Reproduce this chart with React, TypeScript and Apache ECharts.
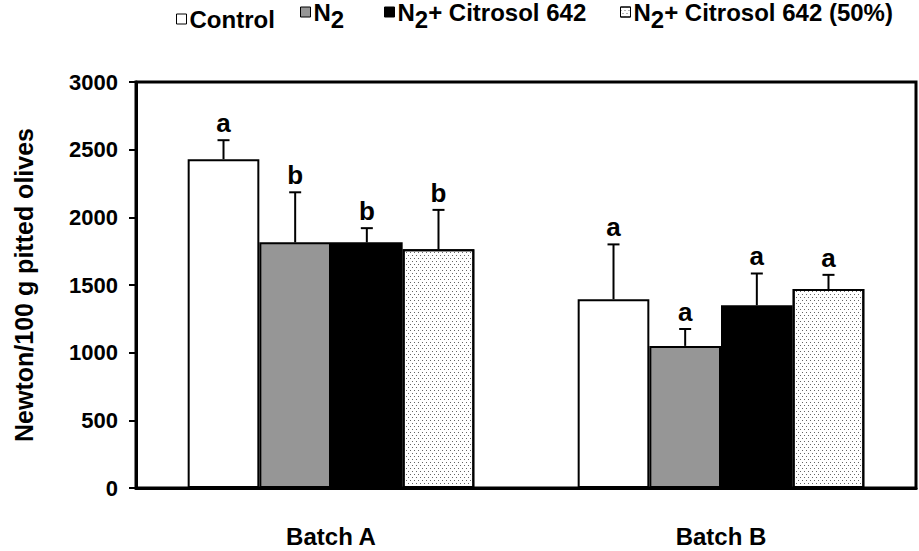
import React, { useEffect, useRef } from "react";
import * as echarts from "echarts";

const categories = ["Batch A", "Batch B"];
const seriesNames = ["Control", "N2", "N2+ Citrosol 642", "N2+ Citrosol 642 (50%)"];
const controlValues = [2430, 1395];
const controlErrors = [140, 405];
const n2Values = [1815, 1050];
const n2Errors = [370, 125];
const citrosolValues = [1815, 1350];
const citrosolErrors = [105, 235];
const citrosol50Values = [1765, 1470];
const citrosol50Errors = [290, 105];
const controlLetters = ["a", "a"];
const n2Letters = ["b", "a"];
const citrosolLetters = ["b", "a"];
const citrosol50Letters = ["b", "a"];
const yTicks = { min: 0, max: 3000, interval: 500 };

const FONT = "'Liberation Sans', Arial, sans-serif";
const CATEGORY_GAP = 0.265;

export default function App() {
  const ref = useRef<HTMLDivElement>(null);
  useEffect(() => {
    if (!ref.current) return;
    const chart = echarts.init(ref.current, undefined, { renderer: "svg" });
    const values = [controlValues, n2Values, citrosolValues, citrosol50Values];
    const errors = [controlErrors, n2Errors, citrosolErrors, citrosol50Errors];
    const letters = [controlLetters, n2Letters, citrosolLetters, citrosol50Letters];
    const itemStyles: any[] = [
      { color: "#ffffff", borderColor: "#000", borderWidth: 2 },
      { color: "#969696", borderColor: "#000", borderWidth: 2 },
      { color: "#000000", borderColor: "#000", borderWidth: 2 },
      {
        color: "#ffffff",
        borderColor: "#000",
        borderWidth: 2,
        decal: {
          symbol: "rect",
          symbolSize: 1,
          color: "#666",
          backgroundColor: "#ffffff",
          dashArrayX: [[1, 3], [0, 2, 1, 1]],
          dashArrayY: [1, 2],
          rotation: 0,
        },
      },
    ];

    const barSeries = seriesNames.map((name, s) => ({
      name,
      type: "bar",
      data: values[s],
      barGap: "0%",
      barCategoryGap: CATEGORY_GAP * 100 + "%",
      itemStyle: itemStyles[s],
      emphasis: { disabled: true },
      z: 2,
    }));

    const errSeries = seriesNames.map((name, s) => ({
      name: name + " err",
      type: "custom",
      z: 5,
      silent: true,
      data: categories.map((_, i) => [i, values[s][i], errors[s][i]]),
      renderItem: (params: any, api: any) => {
        const ci = api.value(0);
        const v = api.value(1);
        const e = api.value(2);
        const band = api.size([1, 0])[0];
        const groupW = band * (1 - CATEGORY_GAP);
        const bw = groupW / 4;
        const cx = api.coord([ci, 0])[0] - groupW / 2 + bw * (s + 0.5);
        const yTop = api.coord([ci, v])[1];
        const yE = api.coord([ci, v + e])[1];
        const st = { stroke: "#000", lineWidth: 2 };
        return {
          type: "group",
          children: [
            { type: "line", shape: { x1: cx, y1: yTop, x2: cx, y2: yE }, style: st },
            { type: "line", shape: { x1: cx - 6, y1: yE, x2: cx + 6, y2: yE }, style: st },
            {
              type: "text",
              x: cx,
              y: yE - 4,
              style: {
                text: letters[s][params.dataIndex],
                align: "center",
                verticalAlign: "bottom",
                font: "bold 26px " + FONT,
                fill: "#000",
              },
            },
          ],
        };
      },
    }));

    const rich = {
      n: { fontSize: 24, fontWeight: "bold", fontFamily: FONT, color: "#000" },
      s: { fontSize: 24, fontWeight: "bold", fontFamily: FONT, color: "#000", padding: [14, 0, 0, 0] },
    };
    const fmt = (name: string) => {
      if (name === "Control") return "{n|Control}";
      if (name === "N2") return "{n|N}{s|2}";
      if (name === "N2+ Citrosol 642") return "{n|N}{s|2}{n|+ Citrosol 642}";
      return "{n|N}{s|2}{n|+ Citrosol 642 (50%)}";
    };
    const legendLefts = [176, 300, 384, 620];
    const legendTops = [7, 0, 0, 0];
    const legends = seriesNames.map((name, s) => ({
      data: [name],
      left: legendLefts[s],
      top: legendTops[s],
      padding: 0,
      icon: "rect",
      itemWidth: 10,
      itemHeight: 10,
      selectedMode: false,
      formatter: fmt,
      textStyle: { rich, fontSize: 24, fontWeight: "bold", fontFamily: FONT, color: "#000", padding: [0, 0, 0, -2] },
      itemStyle: { borderWidth: 1 },
    }));

    chart.setOption({
      animation: false,
      backgroundColor: "#fff",
      legend: legends,
      grid: {
        left: 136,
        right: 3,
        top: 82,
        bottom: 63,
        show: true,
        borderColor: "#000",
        borderWidth: 3,
        containLabel: false,
      },
      xAxis: {
        type: "category",
        data: categories,
        axisTick: { show: false },
        axisLine: { lineStyle: { color: "#000", width: 3 } },
        axisLabel: { margin: 36, fontSize: 24, fontWeight: "bold", fontFamily: FONT, color: "#000" },
      },
      yAxis: {
        type: "value",
        min: yTicks.min,
        max: yTicks.max,
        interval: yTicks.interval,
        name: "Newton/100 g pitted olives",
        nameLocation: "middle",
        nameGap: 100,
        nameTextStyle: { fontSize: 25, fontWeight: "bold", fontFamily: FONT, color: "#000" },
        splitLine: { show: false },
        axisLine: { show: true, lineStyle: { color: "#000", width: 3 } },
        axisTick: { show: true, inside: false, length: 7, lineStyle: { color: "#000", width: 2 } },
        axisLabel: {
          margin: 18,
          fontSize: 22,
          fontWeight: "bold",
          fontFamily: FONT,
          color: "#000",
          formatter: (v: number) => String(v),
        },
      },
      series: [...barSeries, ...errSeries],
    });
    return () => chart.dispose();
  }, []);
  return <div ref={ref} style={{ width: 919, height: 551, position: "absolute", left: 0, top: 0 }} />;
}
